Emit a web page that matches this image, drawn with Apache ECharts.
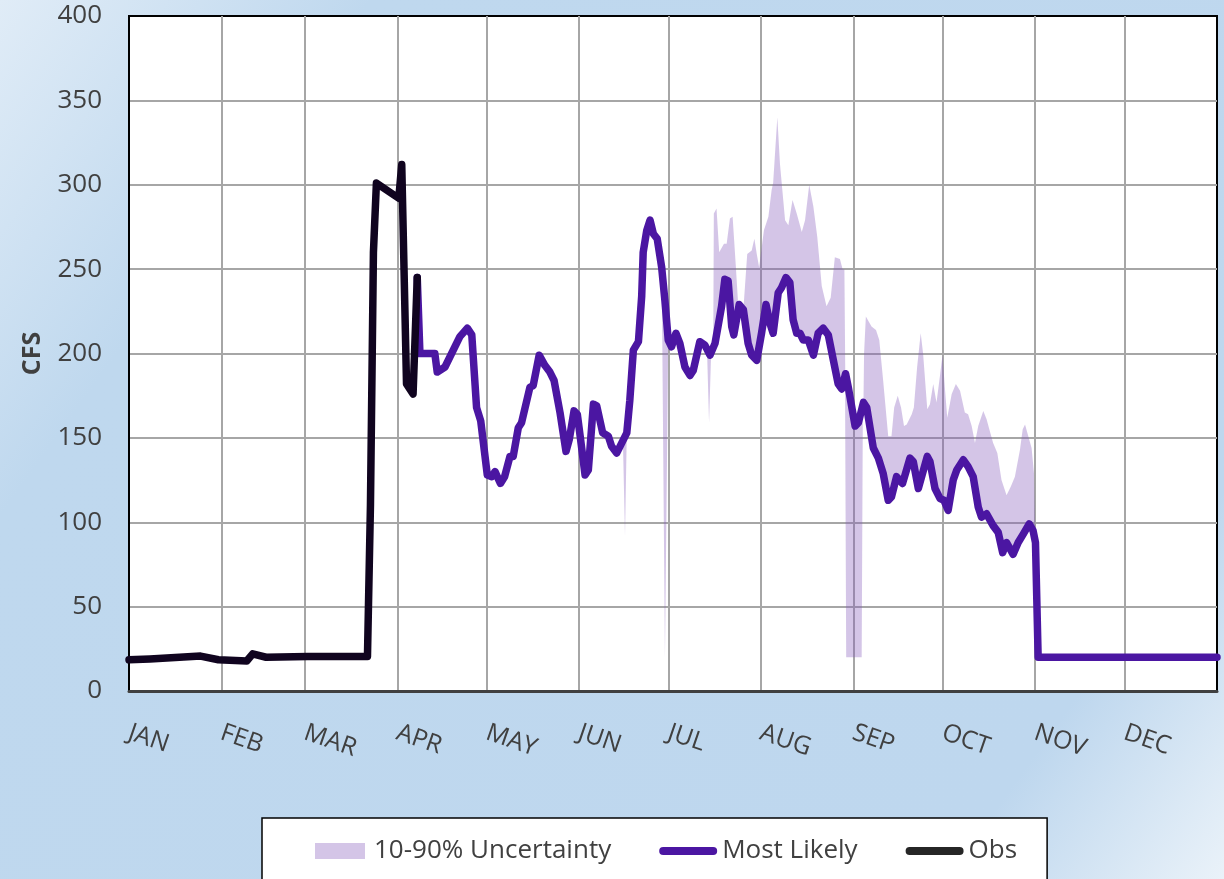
<!DOCTYPE html>
<html>
<head>
<meta charset="utf-8">
<script src="https://cdn.jsdelivr.net/npm/echarts@6/dist/echarts.min.js"></script>
<style>html,body{margin:0;padding:0;}#c{width:1224px;height:879px;}</style>
</head>
<body>
<div id="c"></div>
<script>
// Day-of-year month boundaries and labels
const monthStarts = [0, 31, 59, 90, 120, 151, 181, 212, 243, 273, 304, 334];
const monthLabels = ['JAN', 'FEB', 'MAR', 'APR', 'MAY', 'JUN', 'JUL', 'AUG', 'SEP', 'OCT', 'NOV', 'DEC'];
const gridDays = [0, 31, 59, 90, 120, 151, 181, 212, 243, 273, 304, 334, 365];
const yTicks = [0, 50, 100, 150, 200, 250, 300, 350, 400];

// Observed flow [day, cfs]
const obsData = [[0,18.5],[7,19],[24,20.7],[30,18.5],[39.5,17.8],[41.5,22],[46,20],[60,20.5],[80,20.5],[81,110],[82,260],[83,301],[90.5,292],[91.5,312],[93.1,182],[95.3,176],[96.7,245]];

// Most likely forecast [day, cfs]
const mlData = [[96.7,245],[97.6,200],[102.6,200],[103.4,189],[106,192],[111,210],[113.5,215],[115,211],[116.6,168],[118,160],[120.2,128],[121.7,127],[122.8,130],[124.6,123],[126,127],[127.8,139],[128.9,139],[130.6,156],[131.7,159],[134.5,180],[135.6,181],[137.6,199],[139.5,193],[141.2,189],[142.6,184],[144.6,165],[146.6,142],[147.7,149],[149.3,166],[150.4,164],[151.5,149],[153,128],[154.1,131],[155.8,170],[156.9,169],[158.9,153],[160.8,151],[161.9,145],[163.6,141],[167,153],[168,172],[169.2,202],[170.9,207],[172,234],[172.5,260],[173.7,273],[174.8,279],[175.9,271],[177.2,268],[178.7,251],[179.8,231],[180.9,208],[182,204],[183.5,212],[184.8,206],[186.5,192],[188.2,187],[189.3,190],[191.5,207],[193.2,205],[194.9,199],[196.6,206],[198.8,228],[199.9,244],[201,243],[202.2,216],[202.9,211],[204.7,229],[206.1,226],[207.7,206],[208.9,199],[210.6,196],[212.2,212],[213.7,229],[215,218],[216.1,212],[217.8,236],[218.9,239],[220.4,245],[221.7,242],[222.8,220],[224,212],[225.1,212],[226.2,208],[227.9,208],[229.6,199],[231.2,212],[232.9,215],[234.6,211],[236.3,196],[237.9,182],[239.1,179],[240.4,188],[241.3,180],[243.6,157],[244.7,159],[246.4,171],[247.5,168],[249.7,144],[251.4,138],[253,129],[254.7,113],[255.8,115],[257.5,127],[259.5,123],[262,138],[263.1,136],[264.8,120],[267.8,139],[268.7,136],[270.4,120],[272.1,114],[273.4,113],[274.8,107],[276.5,125],[277.7,131],[279.9,137],[281.5,133],[283.2,127],[284.9,109],[286,103],[287.7,105],[289.9,98],[291.6,94],[293.1,82],[294.4,88],[296.6,81],[298.3,88],[300,93],[302,99],[303.3,95],[304.1,88],[305,20],[365,20]];

// 10-90% uncertainty band: range, and the stretches where its edges leave the most-likely line
const bandRange = [163.6, 304.1];
const bandUpperSegs = [
  [[196.0,204],[196.2,283],[197.1,286],[198.0,260],[199.6,265],[200.5,265],[201.6,280],[202.5,281],[203.6,251],[204.4,228]],
  [[206.1,226],[207.4,259],[208.9,261],[209.8,268],[210.6,259],[211.4,251],[213.0,273],[214.5,281],[215.6,297],[216.1,301],[217.5,340],[218.4,312],[220.1,279],[221.2,276],[222.6,291],[224.0,283],[225.7,272],[226.8,279],[228.2,300],[229.6,287],[230.9,269],[232.4,240],[234.0,228],[235.4,233],[236.8,257],[238.5,256],[239.4,250],[240.0,250],[240.3,187]],
  [[246.4,171],[246.6,200],[247.2,222],[249.1,216],[250.6,214],[251.7,208],[253.0,184],[254.7,151],[255.8,151],[256.7,168],[257.9,175],[259.0,168],[260.0,157],[260.9,158],[262.6,164],[263.3,168],[264.4,192],[265.6,212],[266.4,200],[267.8,167],[268.7,170],[269.8,182],[270.9,171],[272.0,186],[272.9,199],[273.7,180],[274.5,162],[276.0,176],[277.4,182],[278.8,178],[280.4,165],[281.5,164],[282.7,157],[283.8,147],[284.9,157],[286.6,166],[287.7,161],[288.8,154],[289.9,147],[291.3,141],[292.7,125],[294.4,116],[295.8,121],[297.2,127],[298.9,143],[299.8,155],[300.6,158],[302.0,149],[302.8,144],[303.6,129],[304.1,88]]
];
const bandLowerSegs = [
  [[165.7,148],[166.4,92],[167.0,153]],
  [[178.7,251],[179.8,20],[180.9,208]],
  [[193.9,203],[194.6,159],[195.3,201]],
  [[240.2,187],[240.6,20],[245.8,20],[246.2,170]]
];

function buildEdge(base, segs, from, to) {
  let pts = base.filter(p => p[0] >= from && p[0] <= to);
  segs.forEach(s => {
    const a = s[0][0], b = s[s.length - 1][0];
    pts = pts.filter(p => p[0] < a || p[0] > b).concat(s);
  });
  return pts.sort((p, q) => p[0] - q[0]);
}
const bandUpper = buildEdge(mlData, bandUpperSegs, bandRange[0], bandRange[1]);
const bandLower = buildEdge(mlData, bandLowerSegs, bandRange[0], bandRange[1]);

const chart = echarts.init(document.getElementById('c'), null, {renderer: 'canvas'});
const labelFont = 'Open Sans';
const legendFont = '"Liberation Sans Narrow", "Open Sans", sans-serif';

chart.setOption({
  animation: false,
  backgroundColor: {
    type: 'linear', x: 0, y: 0, x2: 1, y2: 1,
    colorStops: [
      {offset: 0, color: '#e0ecf7'},
      {offset: 0.2, color: '#bfd8ee'},
      {offset: 0.85, color: '#bed7ee'},
      {offset: 1, color: '#eaf2f9'}
    ]
  },
  grid: {left: 129, top: 16, right: 7, bottom: 188, show: true, backgroundColor: '#ffffff', borderColor: '#000000', borderWidth: 2},
  xAxis: {
    type: 'value', min: 0, max: 365,
    axisLine: {show: true, onZero: false, lineStyle: {color: '#404040', width: 3}},
    axisTick: {show: false, customValues: gridDays},
    splitLine: {show: true, showMinLine: false, showMaxLine: false, lineStyle: {color: '#a6a6a6', width: 2}},
    axisLabel: {
      customValues: monthStarts,
      formatter: v => monthLabels[monthStarts.indexOf(v)],
      rotate: -19, margin: 41,
      fontFamily: labelFont, fontSize: 25, color: '#404040'
    }
  },
  yAxis: {
    type: 'value', min: 0, max: 400, interval: 50,
    name: 'CFS', nameLocation: 'middle', nameGap: 84,
    nameTextStyle: {fontFamily: labelFont, fontWeight: 'bold', fontSize: 25, color: '#404040'},
    axisLine: {show: true, lineStyle: {color: '#000000', width: 2}},
    axisTick: {show: false},
    axisLabel: {margin: 27, fontFamily: labelFont, fontSize: 26, color: '#404040'},
    splitLine: {show: true, showMinLine: false, showMaxLine: false, lineStyle: {color: '#a6a6a6', width: 2}}
  },
  legend: {
    left: 262, top: 818,
    backgroundColor: '#ffffff', borderColor: '#000000', borderWidth: 1.5,
    padding: [20, 30, 60, 53],
    itemWidth: 58, itemHeight: 16, itemGap: 48,
    textStyle: {fontFamily: legendFont, fontSize: 26, color: '#404040'},
    data: [
      {name: '10-90% Uncertainty', icon: 'path://M0,0h50v16h-50z', itemStyle: {color: '#d4c5e7', borderWidth: 0}},
      {name: 'Most Likely', icon: 'path://M4,0L54,0Q58,0 58,4Q58,8 54,8L4,8Q0,8 0,4Q0,0 4,0Z', itemStyle: {color: '#4b16a2', borderWidth: 0}},
      {name: 'Obs', icon: 'path://M4,0L54,0Q58,0 58,4Q58,8 54,8L4,8Q0,8 0,4Q0,0 4,0Z', itemStyle: {color: '#262626', borderWidth: 0}}
    ]
  },
  series: [
    {
      name: '10-90% Uncertainty', type: 'custom', z: 1,
      data: [[bandRange[0], 0]],
      itemStyle: {color: '#d4c5e7'},
      renderItem: function (params, api) {
        const pts = bandUpper.map(p => api.coord(p)).concat(bandLower.slice().reverse().map(p => api.coord(p)));
        return {type: 'polygon', shape: {points: pts}, style: {fill: 'rgba(132,89,186,0.35)'}};
      }
    },
    {
      name: 'Most Likely', type: 'line', z: 3, data: mlData,
      symbol: 'none', showSymbol: false,
      lineStyle: {color: '#4b16a2', width: 7.5, cap: 'round', join: 'round'},
      itemStyle: {color: '#4b16a2'}
    },
    {
      name: 'Obs', type: 'line', z: 4, data: obsData,
      symbol: 'none', showSymbol: false,
      lineStyle: {color: '#10041f', width: 7.5, cap: 'round', join: 'round'},
      itemStyle: {color: '#10041f'}
    }
  ]
});
</script>
</body>
</html>
